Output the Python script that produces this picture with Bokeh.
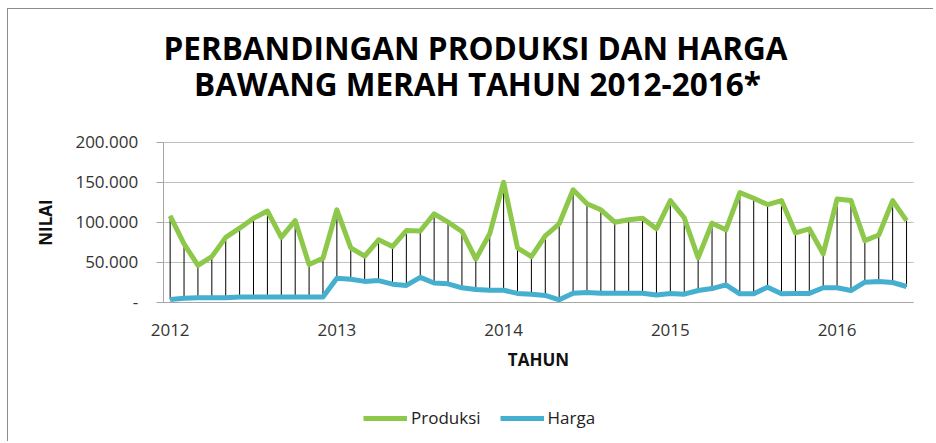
from bokeh.plotting import figure
from bokeh.models import Range1d, FixedTicker, Label, Legend, LegendItem
from bokeh.embed import file_html
from bokeh.resources import INLINE

# ---- data (monthly, Jan 2012 - Jun 2016) ----
produksi = [108000, 73000, 46000, 57000, 81000, 92500, 105000, 114000, 81000, 102000, 47000, 55000,
            115500, 68000, 57500, 78000, 69600, 89600, 89000, 110500, 100000, 88400, 54000, 85500,
            150000, 68000, 57000, 83000, 98000, 140500, 123000, 115500, 100000, 103000, 105000, 91700,
            127000, 105500, 55500, 98800, 90500, 137000, 130000, 122000, 127000, 86700, 91700, 60500,
            129000, 127000, 77000, 84000, 127000, 102000]
harga = [3500, 5000, 5500, 5500, 5500, 6500, 6500, 6500, 6500, 6500, 6500, 6500,
         30000, 28800, 26000, 27000, 22500, 21000, 31000, 24000, 23000, 18000, 16000, 15000,
         15000, 11000, 10000, 8400, 3000, 11300, 12000, 11300, 11300, 11300, 11300, 9000,
         11000, 10000, 14600, 17000, 21700, 10500, 10500, 18800, 10500, 11000, 11000, 18000,
         18000, 14600, 25000, 26000, 24600, 19600]
months = list(range(len(produksi)))
year_ticks = [0, 12, 24, 36, 48]
year_labels = ["2012", "2013", "2014", "2015", "2016"]
y_ticks = [0, 50000, 100000, 150000, 200000]
y_labels = ["-", "50.000", "100.000", "150.000", "200.000"]
title_lines = ["PERBANDINGAN PRODUKSI DAN HARGA", "BAWANG MERAH TAHUN 2012-2016*"]

FONT = "Open Sans"
GREEN = "#8DC84A"
BLUE = "#45AFD0"
GRID = "#bfbfbf"
X_BOUNDS = (-0.5, len(months) - 0.5)

# the frame spans the whole chart; the data area (months -0.5..53.5, 0..200.000) sits inside it
p = figure(frame_width=925, frame_height=432, output_backend="svg", toolbar_location=None,
           x_range=Range1d(-11.634, 54.94), y_range=Range1d(-174125, 365875),
           min_border_left=0, min_border_right=0, min_border_top=0, min_border_bottom=0)
p.margin = (8, 0, 0, 7)
p.styles = {"border-top": "1px solid #8c8c8c", "border-left": "1px solid #8c8c8c"}
p.outline_line_color = None

# horizontal gridlines limited to the data area
p.xgrid.grid_line_color = None
grid = p.ygrid[0]
if "cross_bounds" in grid.properties():
    grid.grid_line_color = GRID
    grid.cross_bounds = X_BOUNDS
else:
    grid.grid_line_color = None
    p.segment(x0=[X_BOUNDS[0]] * len(y_ticks), y0=y_ticks, x1=[X_BOUNDS[1]] * len(y_ticks),
              y1=y_ticks, line_color=GRID, line_width=1)

# drop (high-low) lines
p.segment(x0=months, y0=harga, x1=months, y1=produksi, line_color="black", line_width=1)
r1 = p.line(months, produksi, line_color=GREEN, line_width=5, line_join="round")
r2 = p.line(months, harga, line_color=BLUE, line_width=5, line_join="round")

# axes
p.xaxis.fixed_location = 0
p.xaxis.bounds = X_BOUNDS
p.xaxis.ticker = FixedTicker(ticks=year_ticks)
p.xaxis.major_label_overrides = {t: l for t, l in zip(year_ticks, year_labels)}
p.xaxis.major_tick_line_color = None
p.xaxis.minor_tick_line_color = None
p.xaxis.axis_line_color = "#a6a6a6"
p.xaxis.major_label_standoff = 16
p.xaxis.axis_label = "TAHUN"
p.xaxis.axis_label_text_font = FONT
p.xaxis.axis_label_text_font_style = "bold"
p.xaxis.axis_label_text_font_size = "17px"
p.xaxis.axis_label_standoff = 8

p.yaxis.fixed_location = X_BOUNDS[0]
p.yaxis.bounds = (0, 200000)
p.yaxis.ticker = FixedTicker(ticks=y_ticks)
p.yaxis.major_label_overrides = {t: l for t, l in zip(y_ticks, y_labels)}
p.yaxis.minor_tick_line_color = None
p.yaxis.major_tick_in = 0
p.yaxis.major_tick_out = 7
p.yaxis.major_tick_line_color = "#a6a6a6"
p.yaxis.axis_line_color = "#a6a6a6"
p.yaxis.major_label_standoff = 18
p.yaxis.axis_label = "NILAI"
p.yaxis.axis_label_text_font = FONT
p.yaxis.axis_label_text_font_style = "bold"
p.yaxis.axis_label_text_font_size = "17px"
p.yaxis.axis_label_standoff = 16

for ax in (p.xaxis, p.yaxis):
    ax.major_label_text_font = FONT
    ax.major_label_text_font_size = "17px"
    ax.major_label_text_color = "#333333"
    ax.axis_label_text_color = "#111111"

# two-line centred title (screen units, relative to the frame's bottom-left)
for txt, sx, sy in zip(title_lines, [467, 469], [394, 358]):
    p.add_layout(Label(x=sx, y=sy, x_units="screen", y_units="screen", text=txt,
                       text_font=FONT, text_font_size="31.5px", text_font_style="bold",
                       text_color="#000000", text_align="center", text_baseline="alphabetic"))

legend = Legend(items=[LegendItem(label="Produksi", renderers=[r1]),
                       LegendItem(label="Harga", renderers=[r2])],
                orientation="horizontal", location=(355, 12),
                label_text_font=FONT, label_text_font_size="17px", label_text_color="#222222",
                glyph_width=44, label_standoff=4, spacing=19, padding=0, margin=0,
                border_line_color=None, background_fill_alpha=0)
p.add_layout(legend, "center")

open("out.html", "w").write(file_html(p, INLINE))
